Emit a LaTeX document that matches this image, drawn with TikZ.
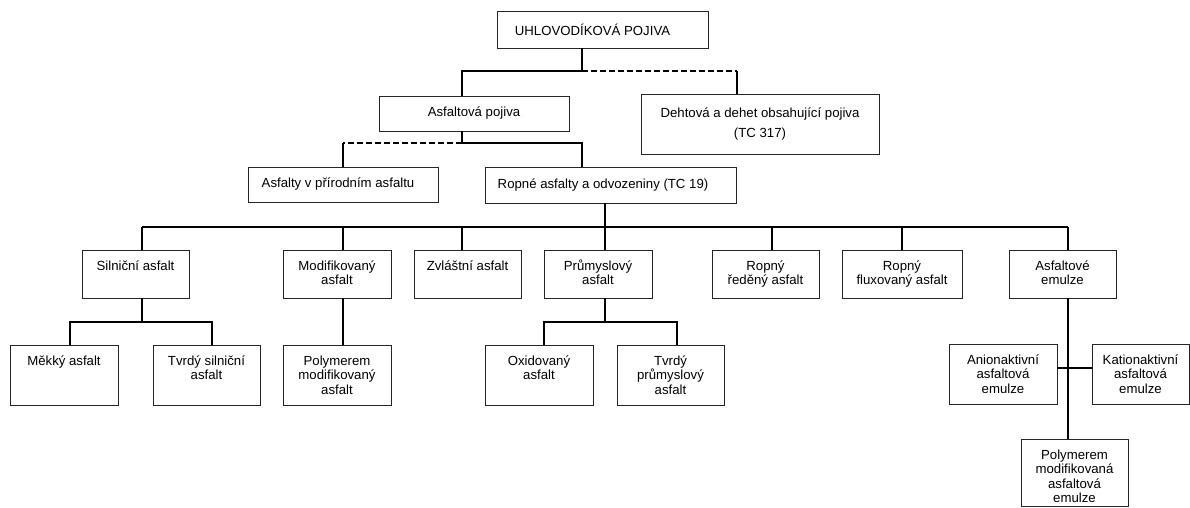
\documentclass[tikz,border=0pt]{standalone}
\usepackage{fontspec}
\setmainfont{Liberation Sans}
\newcommand\cb[3]{\parbox[c][#2pt][t]{#1pt}{\centering\rule{0pt}{20pt}#3\par}}
\begin{document}
\begin{tikzpicture}[x=1pt,y=-1pt,
  every node/.style={font=\fontsize{13.2pt}{14.5pt}\selectfont},
  bx/.style={draw=black!85, line width=0.9pt, inner sep=0pt, rectangle},
  cn/.style={line width=1.2pt, black},
  dsh/.style={line width=1.2pt, black, dash pattern=on 6pt off 3pt}]
\useasboundingbox (0,0) rectangle (1190,507);
\fill[white] (0,0) rectangle (1190,507);

% upper levels
\node[bx, minimum width=211pt, minimum height=37pt] (top) at (602.5,29.5) {\hspace*{-20pt}UHLOVODÍKOVÁ POJIVA};
\node[bx, minimum width=190pt, minimum height=35pt] (asf) at (474,113.5) {Asfaltová pojiva};
\node[bx, minimum width=238pt, minimum height=60pt, align=center] (deh) at (760,124) {Dehtová a dehet obsahující pojiva\\[5.5pt](TC 317)};
\node[bx, minimum width=190pt, minimum height=35pt] (nat) at (343,184.5) {\hspace*{-10pt}Asfalty v přírodním asfaltu};
\node[bx, minimum width=251pt, minimum height=36pt] (rop) at (610.5,185) {\hspace*{-15pt}Ropné asfalty a odvozeniny (TC 19)};

% level 3
\node[bx] (sil) at (135.5,274) {\cb{107}{48}{Silniční asfalt}};
\node[bx] (mod) at (337,274) {\cb{108}{48}{Modifikovaný\\asfalt}};
\node[bx] (zvl) at (467.5,274) {\cb{107}{48}{Zvláštní asfalt}};
\node[bx] (pru) at (598,274) {\cb{108}{48}{Průmyslový\\asfalt}};
\node[bx] (red) at (765.5,274) {\cb{107}{48}{Ropný\\ředěný asfalt}};
\node[bx] (flu) at (902,274) {\cb{120}{48}{Ropný\\fluxovaný asfalt}};
\node[bx] (emu) at (1062.5,274) {\cb{107}{48}{Asfaltové\\emulze}};

% level 4
\node[bx] (mek) at (64,375) {\cb{108}{60}{Měkký asfalt}};
\node[bx] (tsi) at (206.5,375) {\cb{107}{60}{Tvrdý silniční\\asfalt}};
\node[bx] (pmo) at (337,375) {\cb{108}{60}{Polymerem\\modifikovaný\\asfalt}};
\node[bx] (oxi) at (539,375) {\cb{108}{60}{Oxidovaný\\asfalt}};
\node[bx] (tpr) at (670.5,375) {\cb{107}{60}{Tvrdý\\průmyslový\\asfalt}};
\node[bx] (ani) at (1003,374) {\cb{108}{60}{Anionaktivní\\asfaltová\\emulze}};
\node[bx] (kat) at (1140.5,374) {\cb{97}{60}{Kationaktivní\\asfaltová\\emulze}};
\node[bx] (pme) at (1074.5,472.5) {\cb{107}{67}{Polymerem\\modifikovaná\\asfaltová\\emulze}};

% junctions
\coordinate (j0) at (582,71);
\coordinate (jA) at (462,71);
\coordinate (jD) at (737,71);
\coordinate (jB) at (462,143);
\coordinate (jN) at (343,143);
\coordinate (jP) at (582,143);
\coordinate (hL) at (142,227);
\coordinate (h2) at (343,227);
\coordinate (h3) at (462,227);
\coordinate (jR) at (605,227);
\coordinate (h5) at (772,227);
\coordinate (h6) at (902,227);
\coordinate (hR) at (1068,227);
\coordinate (s0) at (142,322);
\coordinate (s1) at (70,322);
\coordinate (s2) at (212,322);
\coordinate (m0) at (343,322);
\coordinate (p0) at (605,322);
\coordinate (p1) at (544,322);
\coordinate (p2) at (677,322);
\coordinate (e0) at (1068,368);

% connectors
\draw[cn] (top.south -| j0) -- (j0) -- (jA) -- (jA |- asf.north);
\draw[dsh] (j0) -- (jD);
\draw[cn] (jD) -- (jD |- deh.north);
\draw[cn] (jB |- asf.south) -- (jB) -- (jP) -- (jP |- rop.north);
\draw[dsh] (jB) -- (jN);
\draw[cn] (jN) -- (jN |- nat.north);

\draw[cn] (jR |- rop.south) -- (jR);
\draw[cn] (hL) -- (hR);
\draw[cn] (hL) -- (hL |- sil.north);
\draw[cn] (h2) -- (h2 |- mod.north);
\draw[cn] (h3) -- (h3 |- zvl.north);
\draw[cn] (jR) -- (jR |- pru.north);
\draw[cn] (h5) -- (h5 |- red.north);
\draw[cn] (h6) -- (h6 |- flu.north);
\draw[cn] (hR) -- (hR |- emu.north);

\draw[cn] (s0 |- sil.south) -- (s0);
\draw[cn] (s1 |- mek.north) -- (s1) -- (s2) -- (s2 |- tsi.north);
\draw[cn] (m0 |- mod.south) -- (m0 |- pmo.north);
\draw[cn] (p0 |- pru.south) -- (p0);
\draw[cn] (p1 |- oxi.north) -- (p1) -- (p2) -- (p2 |- tpr.north);
\draw[cn] (e0 |- emu.south) -- (e0 |- pme.north);
\draw[cn] (ani.east |- e0) -- (kat.west |- e0);
\end{tikzpicture}
\end{document}
